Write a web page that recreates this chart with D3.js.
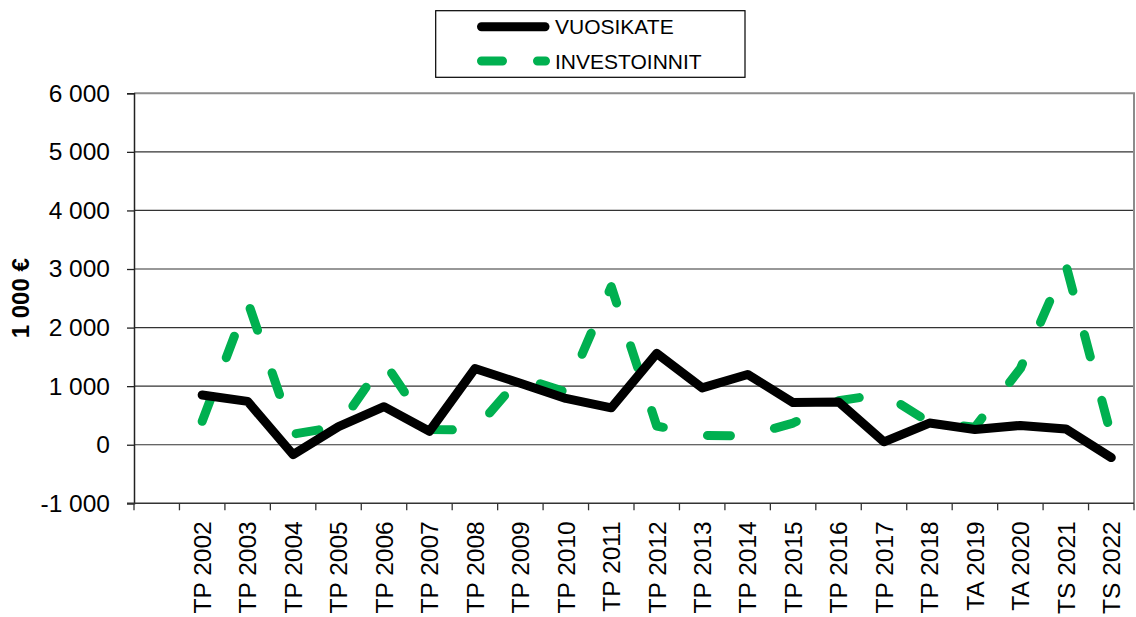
<!DOCTYPE html>
<html>
<head>
<meta charset="utf-8">
<script src="https://cdn.jsdelivr.net/npm/d3@7"></script>
<style>
  html, body { margin: 0; padding: 0; background: #fff; }
  svg { display: block; font-family: Arial, "Liberation Sans", sans-serif; }
</style>
</head>
<body>
<svg id="chart" width="1136" height="617"></svg>
<script>
// ---- data ----
const categories = ["TP 2002","TP 2003","TP 2004","TP 2005","TP 2006","TP 2007","TP 2008","TP 2009","TP 2010","TP 2011","TP 2012","TP 2013","TP 2014","TP 2015","TP 2016","TP 2017","TP 2018","TA 2019","TA 2020","TS 2021","TS 2022"];
const vuosikate = [850, 740, -170, 310, 650, 230, 1300, 1050, 790, 630, 1560, 970, 1200, 720, 730, 50, 370, 260, 330, 270, -220];
const investoinnit = [400, 2450, 180, 310, 1420, 260, 250, 1150, 900, 2700, 320, 160, 150, 370, 750, 870, 380, 300, 1300, 3080, 150];
const yTicks = [-1000, 0, 1000, 2000, 3000, 4000, 5000, 6000];
const seriesNames = ["VUOSIKATE", "INVESTOINNIT"];
const yTitle = "1 000 €";

(function () {
// ---- layout ----
const svg = d3.select("#chart");
const pLeft = 134, pRight = 1134, pTop = 93.3, pBottom = 503.3;
const green = "#00B050";

const x = d3.scaleBand().domain(["", ...categories]).range([pLeft, pRight]).padding(0);
const y = d3.scaleLinear().domain([-1000, 6000]).range([pBottom, pTop]);
const loc = d3.formatLocale({decimal: ",", thousands: " ", grouping: [3], currency: ["", ""], minus: "-"});
const fmt = loc.format(",d");

// gridlines
svg.append("g").selectAll("line").data(yTicks.filter(v => v > -1000 && v < 6000)).join("line")
  .attr("x1", pLeft).attr("x2", pRight)
  .attr("y1", d => y(d)).attr("y2", d => y(d))
  .attr("stroke", "#333").attr("stroke-width", 1.2);

// plot border top & right
svg.append("path")
  .attr("d", `M${pLeft},${y(6000)}H${pRight}V${pBottom}`)
  .attr("fill", "none").attr("stroke", "#8c8c8c").attr("stroke-width", 2);

// y axis
const yAxis = svg.append("g").attr("transform", `translate(${pLeft},0)`)
  .call(d3.axisLeft(y).tickValues(yTicks).tickFormat(fmt).tickSize(7).tickPadding(17));
yAxis.select(".domain").attr("stroke", "#222").attr("stroke-width", 1.5);
yAxis.selectAll(".tick line").attr("stroke", "#222").attr("stroke-width", 1.3);
yAxis.selectAll(".tick text").attr("font-size", "24.5px").attr("fill", "#000")
  .attr("font-family", "Arial, 'Liberation Sans', sans-serif");

// x axis
const xAxis = svg.append("g").attr("transform", `translate(0,${pBottom})`);
xAxis.append("line").attr("x1", pLeft - 7).attr("x2", pRight).attr("y1", 0).attr("y2", 0)
  .attr("stroke", "#333").attr("stroke-width", 1.5);
const bounds = x.domain().map(d => x(d)).concat([pRight]);
xAxis.selectAll("line.tk").data(bounds).join("line").attr("class", "tk")
  .attr("x1", d => d).attr("x2", d => d).attr("y1", 0).attr("y2", 7)
  .attr("stroke", "#333").attr("stroke-width", 1.3);
xAxis.selectAll("text").data(categories).join("text")
  .attr("transform", d => `translate(${x(d) + x.bandwidth() / 2},${18}) rotate(-90)`)
  .attr("text-anchor", "end").attr("dy", "0.36em")
  .attr("font-size", "24.5px").attr("fill", "#000")
  .text(d => d);

// y title
svg.append("text")
  .attr("transform", `translate(20,${(pTop + pBottom) / 2}) rotate(-90)`)
  .attr("text-anchor", "middle").attr("dy", "0.36em")
  .attr("font-size", "24px").attr("font-weight", "bold").attr("fill", "#000")
  .text(yTitle);

// lines
const cx = d => x(d) + x.bandwidth() / 2;
const line = d3.line().x(d => cx(d[0])).y(d => y(d[1]));

svg.append("path")
  .datum(categories.map((c, i) => [c, investoinnit[i]]))
  .attr("d", line).attr("fill", "none")
  .attr("stroke", green).attr("stroke-width", 9)
  .attr("stroke-linecap", "round").attr("stroke-linejoin", "round")
  .attr("stroke-dasharray", "23,45");

svg.append("path")
  .datum(categories.map((c, i) => [c, vuosikate[i]]))
  .attr("d", line).attr("fill", "none")
  .attr("stroke", "#000").attr("stroke-width", 9)
  .attr("stroke-linecap", "round").attr("stroke-linejoin", "round");

// legend
const lg = svg.append("g");
lg.append("rect").attr("x", 435.7).attr("y", 10.7).attr("width", 309.3).attr("height", 66.6)
  .attr("fill", "#fff").attr("stroke", "#000").attr("stroke-width", 1.2);
lg.append("line").attr("x1", 481.5).attr("x2", 545).attr("y1", 26.7).attr("y2", 26.7)
  .attr("stroke", "#000").attr("stroke-width", 9).attr("stroke-linecap", "round");
lg.append("line").attr("x1", 481.5).attr("x2", 545.5).attr("y1", 61).attr("y2", 61)
  .attr("stroke", green).attr("stroke-width", 9).attr("stroke-linecap", "round")
  .attr("stroke-dasharray", "21,35");
lg.selectAll("text").data(seriesNames).join("text")
  .attr("x", 555).attr("y", (d, i) => i === 0 ? 26.7 : 61).attr("dy", "0.36em")
  .attr("font-size", "21px").attr("fill", "#000")
  .text(d => d);
})();
</script>
</body>
</html>
